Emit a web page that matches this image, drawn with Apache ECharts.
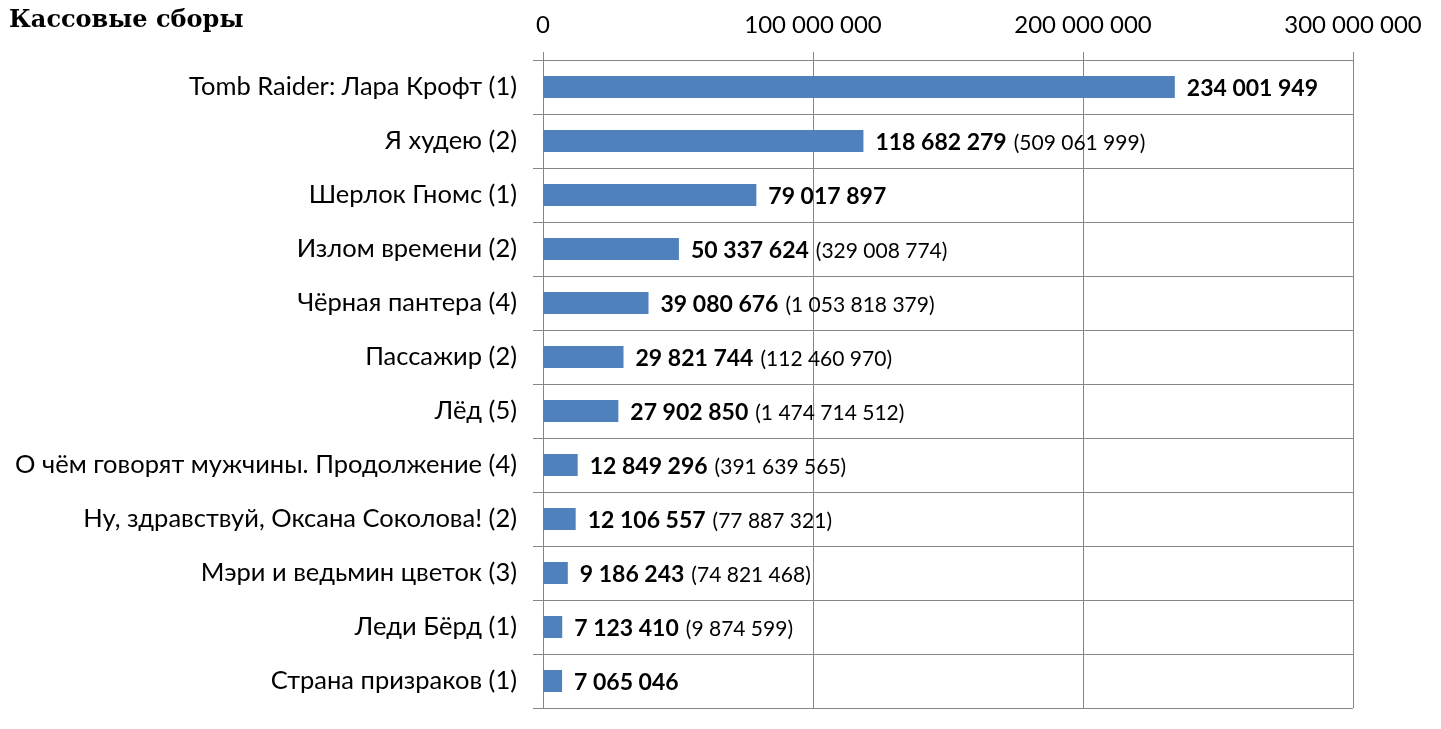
<!DOCTYPE html>
<html><head><meta charset="utf-8">
<script src="https://cdn.jsdelivr.net/npm/echarts@6/dist/echarts.min.js"></script>
<style>html,body{margin:0;padding:0;background:#fff}#c{width:1441px;height:729px}</style>
</head><body><div id="c"></div>
<script>
const titleText = 'Кассовые сборы';
const categories = [
  'Tomb Raider: Лара Крофт (1)',
  'Я худею (2)',
  'Шерлок Гномс (1)',
  'Излом времени (2)',
  'Чёрная пантера (4)',
  'Пассажир (2)',
  'Лёд (5)',
  'О чём говорят мужчины. Продолжение (4)',
  'Ну, здравствуй, Оксана Соколова! (2)',
  'Мэри и ведьмин цветок (3)',
  'Леди Бёрд (1)',
  'Страна призраков (1)'
];
const weekendGross = [234001949, 118682279, 79017897, 50337624, 39080676, 29821744, 27902850, 12849296, 12106557, 9186243, 7123410, 7065046];
const totalGross = [null, 509061999, null, 329008774, 1053818379, 112460970, 1474714512, 391639565, 77887321, 74821468, 9874599, null];
const xTicks = [0, 100000000, 200000000, 300000000];

const fmt = v => String(v).replace(/\B(?=(\d{3})+(?!\d))/g, ' ');
const FONT = 'Lato';
const chart = echarts.init(document.getElementById('c'));
chart.setOption({
  animation: false,
  title: {text: titleText, left: 4, top: 4, textStyle: {fontFamily: 'DejaVu Serif', fontWeight: 'bold', fontSize: 24, color: '#000'}},
  grid: {left: 543, right: 88, top: 60, bottom: 21, containLabel: false},
  xAxis: {
    type: 'value', position: 'top', min: xTicks[0], max: xTicks[xTicks.length-1], interval: 100000000,
    axisLine: {show: false},
    axisTick: {show: true, length: 8, lineStyle: {color: '#868686'}},
    splitLine: {show: true, lineStyle: {color: '#868686', width: 1}},
    axisLabel: {formatter: v => fmt(v), fontFamily: FONT, fontSize: 24, color: '#000', margin: 23}
  },
  yAxis: {
    type: 'category', inverse: true, data: categories,
    axisLine: {show: true, lineStyle: {color: '#868686'}},
    axisTick: {show: true, length: 10, lineStyle: {color: '#868686'}},
    splitLine: {show: true, lineStyle: {color: '#868686', width: 1}},
    axisLabel: {fontFamily: FONT, fontSize: 25.5, color: '#000', margin: 26, padding: [4, 0, 0, 0]}
  },
  series: [{
    type: 'bar', barWidth: 22,
    data: weekendGross,
    itemStyle: {color: '#4F81BD'},
    label: {
      show: true, position: 'right', distance: 12, offset: [0, 2],
      formatter: p => {
        const t = totalGross[p.dataIndex];
        return '{b|' + fmt(p.value) + '}' + (t ? '{n|(' + fmt(t) + ')}' : '');
      },
      rich: {
        b: {fontFamily: FONT, fontWeight: 'bold', fontSize: 23, color: '#000'},
        n: {fontFamily: FONT, fontSize: 21, color: '#000', padding: [0, 0, 0, 7]}
      }
    }
  }]
});
</script></body></html>
